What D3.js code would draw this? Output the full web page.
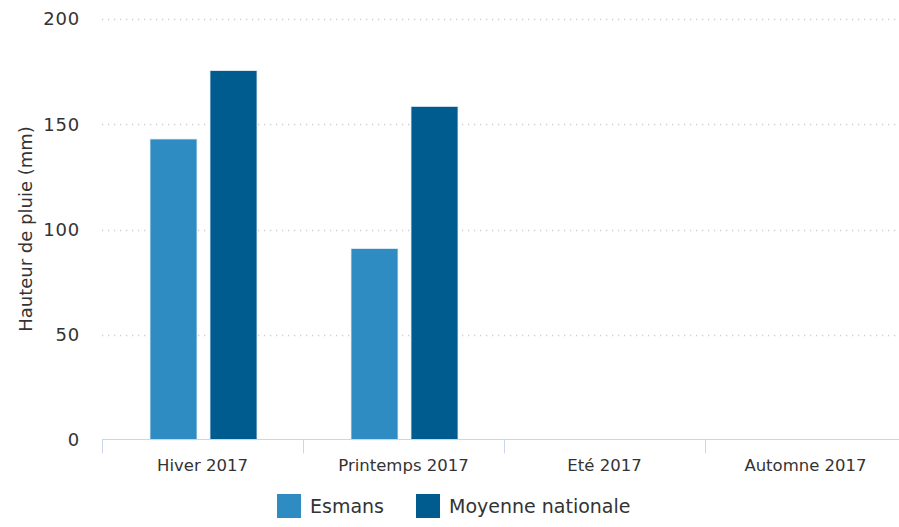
<!DOCTYPE html>
<html><head><meta charset="utf-8">
<script src="https://cdn.jsdelivr.net/npm/d3@7"></script>
<style>body{margin:0;background:#fff}svg{display:block}text{font-family:"DejaVu Sans",sans-serif;fill:#333}</style>
</head><body><svg id="c" width="899" height="527"></svg>
<script>
const categories = ["Hiver 2017","Printemps 2017","Eté 2017","Automne 2017"];
const seriesNames = ["Esmans","Moyenne nationale"];
const esmans = [143, 91, null, null];
const moyenne = [175.5, 158.5, null, null];
const yTicks = [0,50,100,150,200];
const colors = ["#2f8cc2","#005b8f"];

const svg = d3.select("#c");
const L = 102, R = 906, T = 19, B = 440;
const x = d3.scaleBand().domain(categories).range([L,R]).padding(0);
const x1 = d3.scaleBand().domain(seriesNames).range([48,155]).paddingInner(0.2167).paddingOuter(0);
const y = d3.scaleLinear().domain([0,200]).range([B,T]);

// gridlines
svg.append("g").selectAll("line").data(yTicks.filter(d=>d>0)).join("line")
  .attr("x1",L).attr("x2",899).attr("y1",d=>Math.round(y(d))+0.5).attr("y2",d=>Math.round(y(d))+0.5)
  .attr("stroke","#cfcfcf").attr("stroke-width",1.3).attr("stroke-dasharray","1.3,4.7");

// y labels
const ya = d3.axisLeft(y).tickValues(yTicks).tickSize(0).tickPadding(0);
const gy = svg.append("g").attr("transform",`translate(80,0)`).call(ya);
gy.select(".domain").remove();
gy.selectAll("text").attr("font-size",18).attr("letter-spacing","0.8px").attr("font-family","DejaVu Sans").attr("fill","#333").attr("dy","0.32em");

// y title
svg.append("text").attr("transform",`translate(32,229) rotate(-90)`).attr("text-anchor","middle")
  .attr("font-size",18).text("Hauteur de pluie (mm)");

// bars
const data = [esmans, moyenne];
data.forEach((vals,si)=>{
  svg.append("g").selectAll("rect").data(categories.map((c,i)=>({c,v:vals[i]})).filter(d=>d.v!=null)).join("rect")
    .attr("x",d=>x(d.c)+x1(seriesNames[si]))
    .attr("width",x1.bandwidth())
    .attr("y",d=>y(d.v))
    .attr("height",d=>y(0)-y(d.v))
    .attr("fill",colors[si]).attr("stroke","#e8f0f8").attr("stroke-width",0.8);
});

// x axis
const gx = svg.append("g").attr("transform",`translate(0,${B-0.5})`);
gx.append("line").attr("x1",L).attr("x2",899).attr("stroke","#ccd6eb");
gx.selectAll("line.t").data(categories).join("line").attr("class","t")
  .attr("x1",d=>x(d)+0.5).attr("x2",d=>x(d)+0.5).attr("y1",0).attr("y2",14).attr("stroke","#ccd6eb");
gx.selectAll("text").data(categories).join("text")
  .attr("x",d=>x(d)+x.bandwidth()/2).attr("y",26).attr("dy","0.32em")
  .attr("text-anchor","middle").attr("font-size",16.5).text(d=>d);

// legend
const leg = svg.append("g");
const legX = [277, 416];
seriesNames.forEach((n,i)=>{
  leg.append("rect").attr("x",legX[i]).attr("y",494).attr("width",24).attr("height",24).attr("fill",colors[i]);
  leg.append("text").attr("x",legX[i]+33).attr("y",506).attr("dy","0.35em").attr("font-size",19).text(n);
});
</script></body></html>
